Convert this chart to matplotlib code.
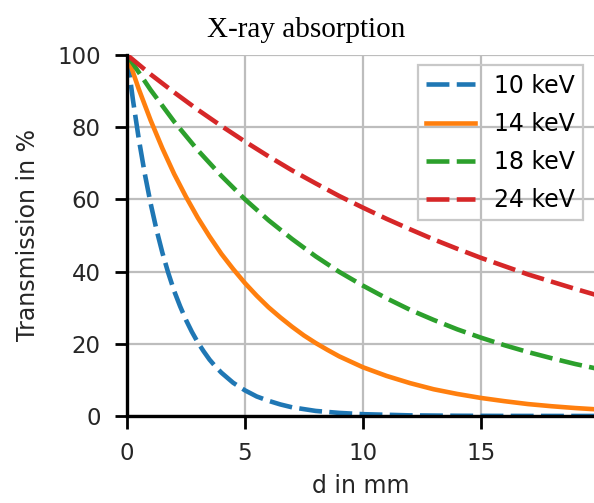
import numpy as np
import matplotlib.pyplot as plt

# thickness d in mm and transmission in %
d_10 = [0, 0.25, 0.5, 0.75, 1, 1.25, 1.5, 1.75, 2, 2.25, 2.5, 2.75, 3, 3.25, 3.5,
        3.75, 4, 4.5, 5, 5.5, 6, 6.5, 7, 7.5, 8, 9, 10, 12, 14, 16, 18, 20]
t_10kev = [100, 87.6, 76.7, 67.2, 58.9, 51.6, 45.2, 39.6, 34.6, 30.4, 26.6, 23.3,
           20.4, 17.9, 15.6, 13.7, 12.0, 9.2, 7.1, 5.4, 4.2, 3.2, 2.4, 1.9, 1.4,
           0.85, 0.5, 0.17, 0.06, 0.02, 0.01, 0.0]

d_14 = [0, 0.5, 1, 1.5, 2, 2.5, 3, 3.5, 4, 4.5, 5, 5.5, 6, 6.5, 7, 7.5, 8, 8.5,
        9, 9.5, 10, 11, 12, 13, 14, 15, 16, 17, 18, 19, 20]
t_14kev = [100, 90.5, 81.9, 74.1, 67.0, 60.7, 54.9, 49.7, 44.9, 40.7, 36.8, 33.3,
           30.1, 27.3, 24.7, 22.3, 20.2, 18.3, 16.5, 15.0, 13.5, 11.1, 9.1, 7.4,
           6.1, 5.0, 4.1, 3.3, 2.7, 2.2, 1.8]

d_mm = list(range(0, 21))
t_18kev = [100, 90.3, 81.5, 73.6, 66.5, 60.0, 54.2, 49.0, 44.2, 39.9, 36.1,
           32.6, 29.4, 26.6, 24.0, 21.7, 19.6, 17.7, 16.0, 14.4, 13.0]
t_24kev = [100, 94.6, 89.6, 84.8, 80.3, 76.0, 71.9, 68.0, 64.4, 60.9, 57.7,
           54.6, 51.7, 48.9, 46.3, 43.8, 41.5, 39.2, 37.2, 35.2, 33.3]

labels = ['10 keV', '14 keV', '18 keV', '24 keV']
text_color = '#262626'

fig = plt.figure(figsize=(5.94, 5.03), dpi=100)
ax = fig.add_axes([0.2138, 0.173, 0.7862, 0.718])

lw = 3.3
dash = (5, 1.6)
ax.plot(d_10, t_10kev, '--', dashes=dash, color='#1f77b4', lw=lw, label=labels[0])
ax.plot(d_14, t_14kev, '-', color='#ff7f0e', lw=lw, label=labels[1])
ax.plot(d_mm, t_18kev, '--', dashes=dash, color='#2ca02c', lw=lw, label=labels[2])
ax.plot(d_mm, t_24kev, '--', dashes=dash, color='#d62728', lw=lw, label=labels[3])

ax.set_xlim(0, 19.8)
ax.set_ylim(0, 100)
ax.set_xticks([0, 5, 10, 15])
ax.set_yticks([0, 20, 40, 60, 80, 100])
ax.grid(True, color='#bdbdbd', lw=1.6)
ax.set_axisbelow(True)

for side in ['top', 'right']:
    ax.spines[side].set_visible(False)
for side in ['left', 'bottom']:
    ax.spines[side].set_color('black')
    ax.spines[side].set_linewidth(2.4)
    ax.spines[side].set_zorder(3)

ax.tick_params(direction='out', length=9, width=2.0, colors='black',
               labelcolor=text_color, labelsize=16.5)
ax.tick_params(axis='y', pad=10)
ax.tick_params(axis='x', pad=10)

ax.set_xlabel('d in mm', fontsize=17, color=text_color, labelpad=6)
ax.set_ylabel('Transmission in %', fontsize=17, color=text_color, labelpad=12)
fig.text(306 / 594, 1 - 37 / 503, 'X-ray absorption', family='Liberation Serif',
         fontsize=21, color='black', ha='center', va='baseline')

leg = ax.legend(loc='upper right', fontsize=17, fancybox=False, framealpha=1.0,
                edgecolor='#c8c8c8', handlelength=2.1, handletextpad=0.8,
                borderpad=0.35, labelspacing=0.6, borderaxespad=0.45)
leg.get_frame().set_facecolor('none')
leg.get_frame().set_linewidth(1.6)

fig.savefig('out.png', dpi=100)
